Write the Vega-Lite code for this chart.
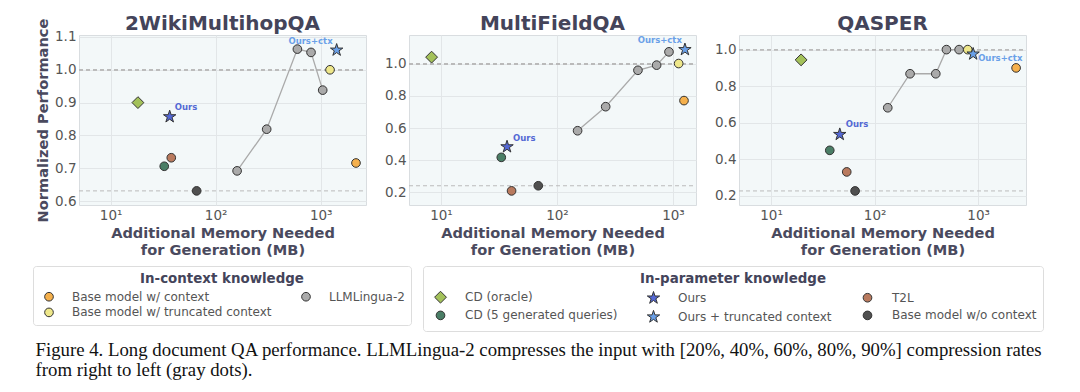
{
  "$schema": "https://vega.github.io/schema/vega-lite/v6.json",
  "padding": {"left": 32, "top": 13, "right": 5, "bottom": 5},
  "background": "white",
  "config": {
    "font": "DejaVu Sans",
    "view": {"fill": "#f3f8f9", "stroke": "#d9dde0", "strokeWidth": 1},
    "axis": {"grid": true, "gridColor": "#e2e6e8", "gridWidth": 1, "domain": false, "ticks": false, "labelFontSize": 13.5, "labelColor": "#555555", "labelPadding": 3, "titleFontSize": 14.6, "titleColor": "#4a4a5e", "titleFontWeight": "bold", "titleLineHeight": 17, "titlePadding": 4},
    "legend": {"titleFontSize": 13.4, "titleFontWeight": "bold", "titleColor": "#44445a", "titleAnchor": "middle", "titleLimit": 600, "labelFontSize": 12, "labelColor": "#555555", "strokeColor": "#dddddd", "fillColor": "white", "padding": 6, "cornerRadius": 3, "rowPadding": 2, "titlePadding": 5, "symbolSize": 75, "symbolStrokeWidth": 1, "symbolStrokeColor": "#333333", "labelLimit": 300}
  },
  "datasets": {
    "pts": [
      {"ds": "2WikiMultihopQA", "series": "CD (oracle)", "mem": 18.2, "perf": 0.90},
      {"ds": "2WikiMultihopQA", "series": "Ours", "mem": 36.5, "perf": 0.857},
      {"ds": "2WikiMultihopQA", "series": "T2L", "mem": 37.8, "perf": 0.732},
      {"ds": "2WikiMultihopQA", "series": "CD (5 generated queries)", "mem": 32.4, "perf": 0.706},
      {"ds": "2WikiMultihopQA", "series": "Base model w/o context", "mem": 65.9, "perf": 0.631},
      {"ds": "2WikiMultihopQA", "series": "LLMLingua-2", "mem": 160, "perf": 0.692},
      {"ds": "2WikiMultihopQA", "series": "LLMLingua-2", "mem": 306, "perf": 0.819},
      {"ds": "2WikiMultihopQA", "series": "LLMLingua-2", "mem": 600, "perf": 1.063},
      {"ds": "2WikiMultihopQA", "series": "LLMLingua-2", "mem": 809, "perf": 1.053},
      {"ds": "2WikiMultihopQA", "series": "LLMLingua-2", "mem": 1045, "perf": 0.938},
      {"ds": "2WikiMultihopQA", "series": "Base model w/ truncated context", "mem": 1227, "perf": 1.0},
      {"ds": "2WikiMultihopQA", "series": "Ours + truncated context", "mem": 1419, "perf": 1.06},
      {"ds": "2WikiMultihopQA", "series": "Base model w/ context", "mem": 2168, "perf": 0.716},
      {"ds": "MultiFieldQA", "series": "CD (oracle)", "mem": 8.3, "perf": 1.042},
      {"ds": "MultiFieldQA", "series": "Ours", "mem": 37.1, "perf": 0.483},
      {"ds": "MultiFieldQA", "series": "CD (5 generated queries)", "mem": 33.1, "perf": 0.417},
      {"ds": "MultiFieldQA", "series": "T2L", "mem": 40.6, "perf": 0.208},
      {"ds": "MultiFieldQA", "series": "Base model w/o context", "mem": 69, "perf": 0.24},
      {"ds": "MultiFieldQA", "series": "LLMLingua-2", "mem": 150.6, "perf": 0.583},
      {"ds": "MultiFieldQA", "series": "LLMLingua-2", "mem": 263, "perf": 0.733},
      {"ds": "MultiFieldQA", "series": "LLMLingua-2", "mem": 499, "perf": 0.96},
      {"ds": "MultiFieldQA", "series": "LLMLingua-2", "mem": 723, "perf": 0.992},
      {"ds": "MultiFieldQA", "series": "LLMLingua-2", "mem": 924, "perf": 1.075},
      {"ds": "MultiFieldQA", "series": "Base model w/ truncated context", "mem": 1120, "perf": 1.002},
      {"ds": "MultiFieldQA", "series": "Base model w/ context", "mem": 1245, "perf": 0.771},
      {"ds": "MultiFieldQA", "series": "Ours + truncated context", "mem": 1268, "perf": 1.089},
      {"ds": "QASPER", "series": "CD (oracle)", "mem": 19.5, "perf": 0.944},
      {"ds": "QASPER", "series": "Ours", "mem": 46.1, "perf": 0.536},
      {"ds": "QASPER", "series": "CD (5 generated queries)", "mem": 36.9, "perf": 0.449},
      {"ds": "QASPER", "series": "T2L", "mem": 53.8, "perf": 0.331},
      {"ds": "QASPER", "series": "Base model w/o context", "mem": 64.8, "perf": 0.227},
      {"ds": "QASPER", "series": "LLMLingua-2", "mem": 134, "perf": 0.682},
      {"ds": "QASPER", "series": "LLMLingua-2", "mem": 220, "perf": 0.868},
      {"ds": "QASPER", "series": "LLMLingua-2", "mem": 390, "perf": 0.868},
      {"ds": "QASPER", "series": "LLMLingua-2", "mem": 494, "perf": 1.0},
      {"ds": "QASPER", "series": "LLMLingua-2", "mem": 655, "perf": 1.0},
      {"ds": "QASPER", "series": "Base model w/ truncated context", "mem": 794, "perf": 1.0},
      {"ds": "QASPER", "series": "Ours + truncated context", "mem": 895, "perf": 0.976},
      {"ds": "QASPER", "series": "Base model w/ context", "mem": 2327, "perf": 0.90}
    ]
  },
  "title": {"text": ["Figure 4. Long document QA performance. LLMLingua-2 compresses the input with [20%, 40%, 60%, 80%, 90%] compression rates", "from right to left (gray dots)."], "orient": "bottom", "anchor": "start", "frame": "bounds", "font": "Liberation Serif", "fontSize": 18.8, "fontWeight": "normal", "color": "#111111", "lineHeight": 20, "offset": 9, "dx": 3},
  "bounds": "flush",
  "spacing": 43,
  "resolve": {"scale": {"fill": "shared", "color": "shared", "shape": "shared", "size": "shared"}},
  "hconcat": [
    {
      "width": 287, "height": 170,
      "title": {"text": "2WikiMultihopQA", "fontSize": 20, "fontWeight": "bold", "color": "#44445a", "offset": -16},
      "data": {"name": "pts"},
      "transform": [{"filter": "datum.ds === '2WikiMultihopQA'"}],
      "encoding": {
        "x": {"field": "mem", "type": "quantitative", "scale": {"type": "log", "domain": [5, 2700]}, "axis": {"values": [10, 100, 1000], "labelExpr": "datum.value == 10 ? '10¹' : datum.value == 100 ? '10²' : '10³'", "title": ["Additional Memory Needed", "for Generation (MB)"]}},
        "y": {"field": "perf", "type": "quantitative", "scale": {"domain": [0.588, 1.106], "zero": false, "nice": false}, "axis": {"values": [0.6, 0.7, 0.8, 0.9, 1.0, 1.1], "format": ".1f", "title": "Normalized Performance"}}
      },
      "layer": [
        {"mark": {"type": "rule", "strokeDash": [4, 3], "color": "#bbbbbb", "strokeWidth": 1}, "encoding": {"x": {"value": 0}, "x2": {"value": "width"}, "y": {"datum": 1, "type": "quantitative", "scale": {"domain": [0.588, 1.106], "zero": false, "nice": false}, "axis": {"values": [0.6, 0.7, 0.8, 0.9, 1.0, 1.1], "format": ".1f", "title": "Normalized Performance"}}}},
        {"transform": [{"filter": "datum.series === 'Base model w/o context'"}], "mark": {"type": "rule", "strokeDash": [4, 3], "color": "#bbbbbb", "strokeWidth": 1}, "encoding": {"x": {"value": 0}, "x2": {"value": "width"}}},
        {"transform": [{"filter": "datum.series === 'LLMLingua-2'"}], "mark": {"type": "line", "color": "#aaaaaa", "strokeWidth": 1.3}, "encoding": {"order": {"field": "mem"}}},
        {"transform": [{"filter": "datum.series === 'Base model w/ context' || datum.series === 'LLMLingua-2' || datum.series === 'Base model w/ truncated context'"}],
         "mark": {"type": "point", "filled": true, "shape": "circle", "size": 75, "stroke": "#333333", "strokeWidth": 1, "opacity": 1},
         "encoding": {
           "fill": {"field": "series", "type": "nominal", "scale": {"domain": ["Base model w/ context", "Base model w/ truncated context", "LLMLingua-2"], "range": ["#f5b04c", "#eee78a", "#aaaaaa"]},
             "legend": {"title": "In-context knowledge", "orient": "none", "legendX": -46, "legendY": 231, "columns": 2, "columnPadding": 24, "labelOffset": 17, "symbolOffset": 4, "symbolType": "circle"}}
         }},
        {"transform": [{"filter": "datum.series === 'CD (oracle)' || datum.series === 'Ours' || datum.series === 'T2L' || datum.series === 'CD (5 generated queries)' || datum.series === 'Ours + truncated context' || datum.series === 'Base model w/o context'"}],
         "mark": {"type": "point", "filled": true, "stroke": "#333333", "strokeWidth": 1, "opacity": 1},
         "encoding": {
           "color": {"field": "series", "type": "nominal", "scale": {"domain": ["CD (oracle)", "CD (5 generated queries)", "Ours", "Ours + truncated context", "T2L", "Base model w/o context"], "range": ["#a3c15a", "#4a7e66", "#5468d4", "#6aa0e8", "#b97a5e", "#505050"]},
             "legend": {"title": "In-parameter knowledge", "orient": "none", "legendX": 344, "legendY": 231, "columns": 3, "columnPadding": 24, "labelOffset": 17, "symbolOffset": 4}},
           "shape": {"field": "series", "type": "nominal", "scale": {"domain": ["CD (oracle)", "CD (5 generated queries)", "Ours", "Ours + truncated context", "T2L", "Base model w/o context"], "range": ["diamond", "circle", "M0,-1L0.223,-0.307L0.951,-0.309L0.361,0.117L0.588,0.809L0,0.38L-0.588,0.809L-0.361,0.117L-0.951,-0.309L-0.223,-0.307Z", "M0,-1L0.223,-0.307L0.951,-0.309L0.361,0.117L0.588,0.809L0,0.38L-0.588,0.809L-0.361,0.117L-0.951,-0.309L-0.223,-0.307Z", "circle", "circle"]},
             "legend": {"title": "In-parameter knowledge", "orient": "none", "legendX": 344, "legendY": 231, "columns": 3, "columnPadding": 24, "labelOffset": 17, "symbolOffset": 4}},
           "size": {"field": "series", "type": "nominal", "scale": {"type": "ordinal", "domain": ["CD (oracle)", "CD (5 generated queries)", "Ours", "Ours + truncated context", "T2L", "Base model w/o context"], "range": [140, 75, 170, 170, 75, 75]}, "legend": null}
         }},
        {"transform": [{"filter": "datum.series === 'Ours'"}], "mark": {"type": "text", "text": "Ours", "font": "DejaVu Sans", "fontSize": 8.5, "fontWeight": "bold", "color": "#5468d4", "align": "left", "baseline": "middle", "dx": 5, "dy": -10}},
        {"transform": [{"filter": "datum.series === 'Ours + truncated context'"}], "mark": {"type": "text", "text": "Ours+ctx", "font": "DejaVu Sans", "fontSize": 8.5, "fontWeight": "bold", "color": "#6aa0e8", "align": "right", "baseline": "middle", "dx": -4, "dy": -9}}
      ]
    },
    {
      "width": 287, "height": 170,
      "title": {"text": "MultiFieldQA", "fontSize": 20, "fontWeight": "bold", "color": "#44445a", "offset": 1},
      "data": {"name": "pts"},
      "transform": [{"filter": "datum.ds === 'MultiFieldQA'"}],
      "encoding": {
        "x": {"field": "mem", "type": "quantitative", "scale": {"type": "log", "domain": [5.3, 1580]}, "axis": {"values": [10, 100, 1000], "labelExpr": "datum.value == 10 ? '10¹' : datum.value == 100 ? '10²' : '10³'", "title": ["Additional Memory Needed", "for Generation (MB)"]}},
        "y": {"field": "perf", "type": "quantitative", "scale": {"domain": [0.12, 1.18], "zero": false, "nice": false}, "axis": {"values": [0.2, 0.4, 0.6, 0.8, 1.0], "format": ".1f", "title": null}}
      },
      "layer": [
        {"mark": {"type": "rule", "strokeDash": [4, 3], "color": "#bbbbbb", "strokeWidth": 1}, "encoding": {"x": {"value": 0}, "x2": {"value": "width"}, "y": {"datum": 1, "type": "quantitative", "scale": {"domain": [0.12, 1.18], "zero": false, "nice": false}, "axis": {"values": [0.2, 0.4, 0.6, 0.8, 1.0], "format": ".1f", "title": null}}}},
        {"transform": [{"filter": "datum.series === 'Base model w/o context'"}], "mark": {"type": "rule", "strokeDash": [4, 3], "color": "#bbbbbb", "strokeWidth": 1}, "encoding": {"x": {"value": 0}, "x2": {"value": "width"}}},
        {"transform": [{"filter": "datum.series === 'LLMLingua-2'"}], "mark": {"type": "line", "color": "#aaaaaa", "strokeWidth": 1.3}, "encoding": {"order": {"field": "mem"}}},
        {"transform": [{"filter": "datum.series === 'Base model w/ context' || datum.series === 'LLMLingua-2' || datum.series === 'Base model w/ truncated context'"}],
         "mark": {"type": "point", "filled": true, "shape": "circle", "size": 75, "stroke": "#333333", "strokeWidth": 1, "opacity": 1},
         "encoding": {
           "fill": {"field": "series", "type": "nominal", "scale": {"domain": ["Base model w/ context", "Base model w/ truncated context", "LLMLingua-2"], "range": ["#f5b04c", "#eee78a", "#aaaaaa"]},
             "legend": {"title": "In-context knowledge", "orient": "none", "legendX": -46, "legendY": 231, "columns": 2, "columnPadding": 24, "labelOffset": 17, "symbolOffset": 4, "symbolType": "circle"}}
         }},
        {"transform": [{"filter": "datum.series === 'CD (oracle)' || datum.series === 'Ours' || datum.series === 'T2L' || datum.series === 'CD (5 generated queries)' || datum.series === 'Ours + truncated context' || datum.series === 'Base model w/o context'"}],
         "mark": {"type": "point", "filled": true, "stroke": "#333333", "strokeWidth": 1, "opacity": 1},
         "encoding": {
           "color": {"field": "series", "type": "nominal", "scale": {"domain": ["CD (oracle)", "CD (5 generated queries)", "Ours", "Ours + truncated context", "T2L", "Base model w/o context"], "range": ["#a3c15a", "#4a7e66", "#5468d4", "#6aa0e8", "#b97a5e", "#505050"]},
             "legend": {"title": "In-parameter knowledge", "orient": "none", "legendX": 344, "legendY": 231, "columns": 3, "columnPadding": 24, "labelOffset": 17, "symbolOffset": 4}},
           "shape": {"field": "series", "type": "nominal", "scale": {"domain": ["CD (oracle)", "CD (5 generated queries)", "Ours", "Ours + truncated context", "T2L", "Base model w/o context"], "range": ["diamond", "circle", "M0,-1L0.223,-0.307L0.951,-0.309L0.361,0.117L0.588,0.809L0,0.38L-0.588,0.809L-0.361,0.117L-0.951,-0.309L-0.223,-0.307Z", "M0,-1L0.223,-0.307L0.951,-0.309L0.361,0.117L0.588,0.809L0,0.38L-0.588,0.809L-0.361,0.117L-0.951,-0.309L-0.223,-0.307Z", "circle", "circle"]},
             "legend": {"title": "In-parameter knowledge", "orient": "none", "legendX": 344, "legendY": 231, "columns": 3, "columnPadding": 24, "labelOffset": 17, "symbolOffset": 4}},
           "size": {"field": "series", "type": "nominal", "scale": {"type": "ordinal", "domain": ["CD (oracle)", "CD (5 generated queries)", "Ours", "Ours + truncated context", "T2L", "Base model w/o context"], "range": [140, 75, 170, 170, 75, 75]}, "legend": null}
         }},
        {"transform": [{"filter": "datum.series === 'Ours'"}], "mark": {"type": "text", "text": "Ours", "font": "DejaVu Sans", "fontSize": 8.5, "fontWeight": "bold", "color": "#5468d4", "align": "left", "baseline": "middle", "dx": 6, "dy": -9}},
        {"transform": [{"filter": "datum.series === 'Ours + truncated context'"}], "mark": {"type": "text", "text": "Ours+ctx", "font": "DejaVu Sans", "fontSize": 8.5, "fontWeight": "bold", "color": "#6aa0e8", "align": "right", "baseline": "middle", "dx": -3, "dy": -10}}
      ]
    },
    {
      "width": 287, "height": 170,
      "title": {"text": "QASPER", "fontSize": 20, "fontWeight": "bold", "color": "#44445a", "offset": 1},
      "data": {"name": "pts"},
      "transform": [{"filter": "datum.ds === 'QASPER'"}],
      "encoding": {
        "x": {"field": "mem", "type": "quantitative", "scale": {"type": "log", "domain": [4.9, 2900]}, "axis": {"values": [10, 100, 1000], "labelExpr": "datum.value == 10 ? '10¹' : datum.value == 100 ? '10²' : '10³'", "title": ["Additional Memory Needed", "for Generation (MB)"]}},
        "y": {"field": "perf", "type": "quantitative", "scale": {"domain": [0.15, 1.08], "zero": false, "nice": false}, "axis": {"values": [0.2, 0.4, 0.6, 0.8, 1.0], "format": ".1f", "title": null}}
      },
      "layer": [
        {"mark": {"type": "rule", "strokeDash": [4, 3], "color": "#bbbbbb", "strokeWidth": 1}, "encoding": {"x": {"value": 0}, "x2": {"value": "width"}, "y": {"datum": 1, "type": "quantitative", "scale": {"domain": [0.15, 1.08], "zero": false, "nice": false}, "axis": {"values": [0.2, 0.4, 0.6, 0.8, 1.0], "format": ".1f", "title": null}}}},
        {"transform": [{"filter": "datum.series === 'Base model w/o context'"}], "mark": {"type": "rule", "strokeDash": [4, 3], "color": "#bbbbbb", "strokeWidth": 1}, "encoding": {"x": {"value": 0}, "x2": {"value": "width"}}},
        {"transform": [{"filter": "datum.series === 'LLMLingua-2'"}], "mark": {"type": "line", "color": "#aaaaaa", "strokeWidth": 1.3}, "encoding": {"order": {"field": "mem"}}},
        {"transform": [{"filter": "datum.series === 'Base model w/ context' || datum.series === 'LLMLingua-2' || datum.series === 'Base model w/ truncated context'"}],
         "mark": {"type": "point", "filled": true, "shape": "circle", "size": 75, "stroke": "#333333", "strokeWidth": 1, "opacity": 1},
         "encoding": {
           "fill": {"field": "series", "type": "nominal", "scale": {"domain": ["Base model w/ context", "Base model w/ truncated context", "LLMLingua-2"], "range": ["#f5b04c", "#eee78a", "#aaaaaa"]},
             "legend": {"title": "In-context knowledge", "orient": "none", "legendX": -46, "legendY": 231, "columns": 2, "columnPadding": 24, "labelOffset": 17, "symbolOffset": 4, "symbolType": "circle"}}
         }},
        {"transform": [{"filter": "datum.series === 'CD (oracle)' || datum.series === 'Ours' || datum.series === 'T2L' || datum.series === 'CD (5 generated queries)' || datum.series === 'Ours + truncated context' || datum.series === 'Base model w/o context'"}],
         "mark": {"type": "point", "filled": true, "stroke": "#333333", "strokeWidth": 1, "opacity": 1},
         "encoding": {
           "color": {"field": "series", "type": "nominal", "scale": {"domain": ["CD (oracle)", "CD (5 generated queries)", "Ours", "Ours + truncated context", "T2L", "Base model w/o context"], "range": ["#a3c15a", "#4a7e66", "#5468d4", "#6aa0e8", "#b97a5e", "#505050"]},
             "legend": {"title": "In-parameter knowledge", "orient": "none", "legendX": 344, "legendY": 231, "columns": 3, "columnPadding": 24, "labelOffset": 17, "symbolOffset": 4}},
           "shape": {"field": "series", "type": "nominal", "scale": {"domain": ["CD (oracle)", "CD (5 generated queries)", "Ours", "Ours + truncated context", "T2L", "Base model w/o context"], "range": ["diamond", "circle", "M0,-1L0.223,-0.307L0.951,-0.309L0.361,0.117L0.588,0.809L0,0.38L-0.588,0.809L-0.361,0.117L-0.951,-0.309L-0.223,-0.307Z", "M0,-1L0.223,-0.307L0.951,-0.309L0.361,0.117L0.588,0.809L0,0.38L-0.588,0.809L-0.361,0.117L-0.951,-0.309L-0.223,-0.307Z", "circle", "circle"]},
             "legend": {"title": "In-parameter knowledge", "orient": "none", "legendX": 344, "legendY": 231, "columns": 3, "columnPadding": 24, "labelOffset": 17, "symbolOffset": 4}},
           "size": {"field": "series", "type": "nominal", "scale": {"type": "ordinal", "domain": ["CD (oracle)", "CD (5 generated queries)", "Ours", "Ours + truncated context", "T2L", "Base model w/o context"], "range": [140, 75, 170, 170, 75, 75]}, "legend": null}
         }},
        {"transform": [{"filter": "datum.series === 'Ours'"}], "mark": {"type": "text", "text": "Ours", "font": "DejaVu Sans", "fontSize": 8.5, "fontWeight": "bold", "color": "#5468d4", "align": "left", "baseline": "middle", "dx": 6, "dy": -10}},
        {"transform": [{"filter": "datum.series === 'Ours + truncated context'"}], "mark": {"type": "text", "text": "Ours+ctx", "font": "DejaVu Sans", "fontSize": 8.5, "fontWeight": "bold", "color": "#6aa0e8", "align": "left", "baseline": "middle", "dx": 5, "dy": 4}}
      ]
    }
  ]
}
